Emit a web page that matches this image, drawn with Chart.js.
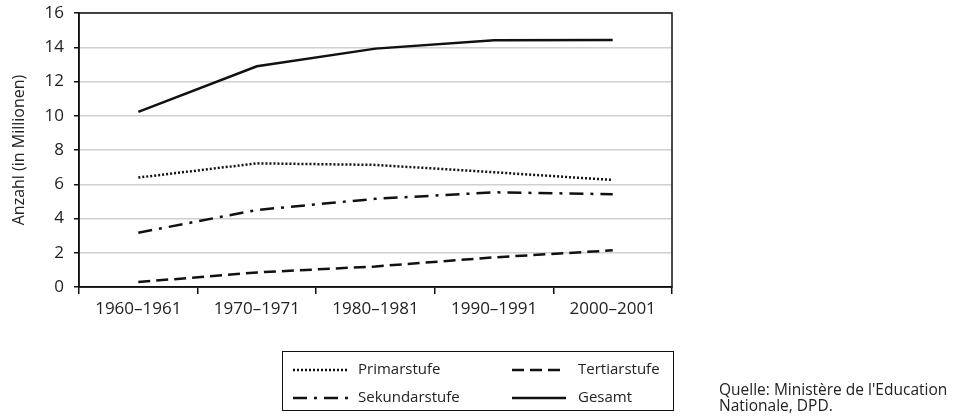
<!DOCTYPE html>
<html>
<head>
<meta charset="utf-8">
<script src="https://cdn.jsdelivr.net/npm/chart.js@4/dist/chart.umd.min.js"></script>
<style>
  html, body { margin: 0; padding: 0; background: #fff; }
  #wrap { position: relative; width: 956px; height: 417px; }
  #c { position: absolute; left: 0; top: 0; }
  #src { position: absolute; left: 719px; top: 381px; font: 15.5px "Open Sans", "Noto Sans", sans-serif; line-height: 16px; color: #222; white-space: nowrap; }
</style>
</head>
<body>
<div id="wrap">
  <canvas id="c" width="956" height="417"></canvas>
  <div id="src">Quelle: Ministère de l'Education<br>Nationale, DPD.</div>
</div>
<script>
const categories = ["1960–1961", "1970–1971", "1980–1981", "1990–1991", "2000–2001"];
const primarstufe   = [6.39, 7.22, 7.13, 6.70, 6.25];
const sekundarstufe = [3.17, 4.50, 5.15, 5.53, 5.42];
const tertiarstufe  = [0.29, 0.85, 1.20, 1.73, 2.14];
const gesamt        = [10.23, 12.89, 13.92, 14.41, 14.43];
const yTicks = [0, 2, 4, 6, 8, 10, 12, 14, 16];
const yTitle = "Anzahl (in Millionen)";

const FONT = '"Open Sans", "Noto Sans", sans-serif';
const INK = '#111';

const frame = {
  id: 'frame',
  afterDatasetsDraw(chart) {
    const a = chart.chartArea, ctx = chart.ctx;
    ctx.save();
    ctx.strokeStyle = INK;
    ctx.lineWidth = 1.5;
    ctx.strokeRect(a.left, a.top, a.right - a.left, a.bottom - a.top);
    ctx.restore();
  }
};

const boxLegend = {
  id: 'boxLegend',
  afterDraw(chart) {
    const ctx = chart.ctx;
    const ds = chart.data.datasets;
    ctx.save();
    ctx.strokeStyle = INK;
    ctx.lineWidth = 1;
    ctx.strokeRect(282.5, 351.5, 391, 59);
    const slots = [
      {i: 0, x0: 293, x1: 349, tx: 358, y: 370},
      {i: 1, x0: 293, x1: 349, tx: 358, y: 398},
      {i: 2, x0: 512, x1: 566, tx: 578, y: 370},
      {i: 3, x0: 512, x1: 566, tx: 578, y: 398}
    ];
    ctx.font = '15px ' + FONT;
    ctx.textBaseline = 'middle';
    ctx.textAlign = 'left';
    for (const s of slots) {
      const d = ds[s.i];
      ctx.beginPath();
      ctx.setLineDash(d.borderDash || []);
      ctx.lineWidth = d.borderWidth;
      ctx.strokeStyle = d.borderColor;
      ctx.moveTo(s.x0, s.y);
      ctx.lineTo(s.x1, s.y);
      ctx.stroke();
      ctx.setLineDash([]);
      ctx.fillStyle = '#222';
      ctx.fillText(d.label, s.tx, s.y);
    }
    ctx.restore();
  }
};

new Chart(document.getElementById('c'), {
  type: 'line',
  data: {
    labels: categories,
    datasets: [
      {label: 'Primarstufe', data: primarstufe, borderColor: INK, borderWidth: 2.5, borderDash: [2, 2], pointRadius: 0, fill: false, tension: 0},
      {label: 'Sekundarstufe', data: sekundarstufe, borderColor: INK, borderWidth: 2.5, borderDash: [14, 7, 3, 7], pointRadius: 0, fill: false, tension: 0},
      {label: 'Tertiarstufe', data: tertiarstufe, borderColor: INK, borderWidth: 2.5, borderDash: [12, 6], pointRadius: 0, fill: false, tension: 0},
      {label: 'Gesamt', data: gesamt, borderColor: INK, borderWidth: 2.5, pointRadius: 0, fill: false, tension: 0}
    ]
  },
  options: {
    responsive: false,
    devicePixelRatio: 1,
    animation: false,
    layout: {padding: {left: 0, top: 13, right: 284, bottom: 0}},
    plugins: {legend: {display: false}, tooltip: {enabled: false}},
    scales: {
      x: {
        type: 'category',
        offset: true,
        afterFit(s) { s.height = 130; s.paddingLeft = 0; s.paddingRight = 0; },
        grid: {display: true, drawOnChartArea: false, tickLength: 7, tickColor: INK, lineWidth: 1.5, offset: true},
        border: {display: true, color: INK, width: 1.5},
        ticks: {color: '#222', font: {family: FONT, size: 17}, padding: 5, maxRotation: 0}
      },
      y: {
        min: 0, max: 16,
        afterFit(s) { s.width = 79; s.paddingTop = 0; s.paddingBottom = 0; },
        afterBuildTicks(s) { s.ticks = yTicks.map(v => ({value: v})); },
        grid: {color: '#d0d0d0', lineWidth: 1.5, tickLength: 5, tickColor: INK},
        border: {display: true, color: INK, width: 1.5},
        ticks: {color: '#222', font: {family: FONT, size: 17}, padding: 10},
        title: {display: true, text: yTitle, color: '#222', font: {family: FONT, size: 16}, padding: {top: 10, bottom: 0}}
      }
    }
  },
  plugins: [frame, boxLegend]
});
</script>
</body>
</html>
